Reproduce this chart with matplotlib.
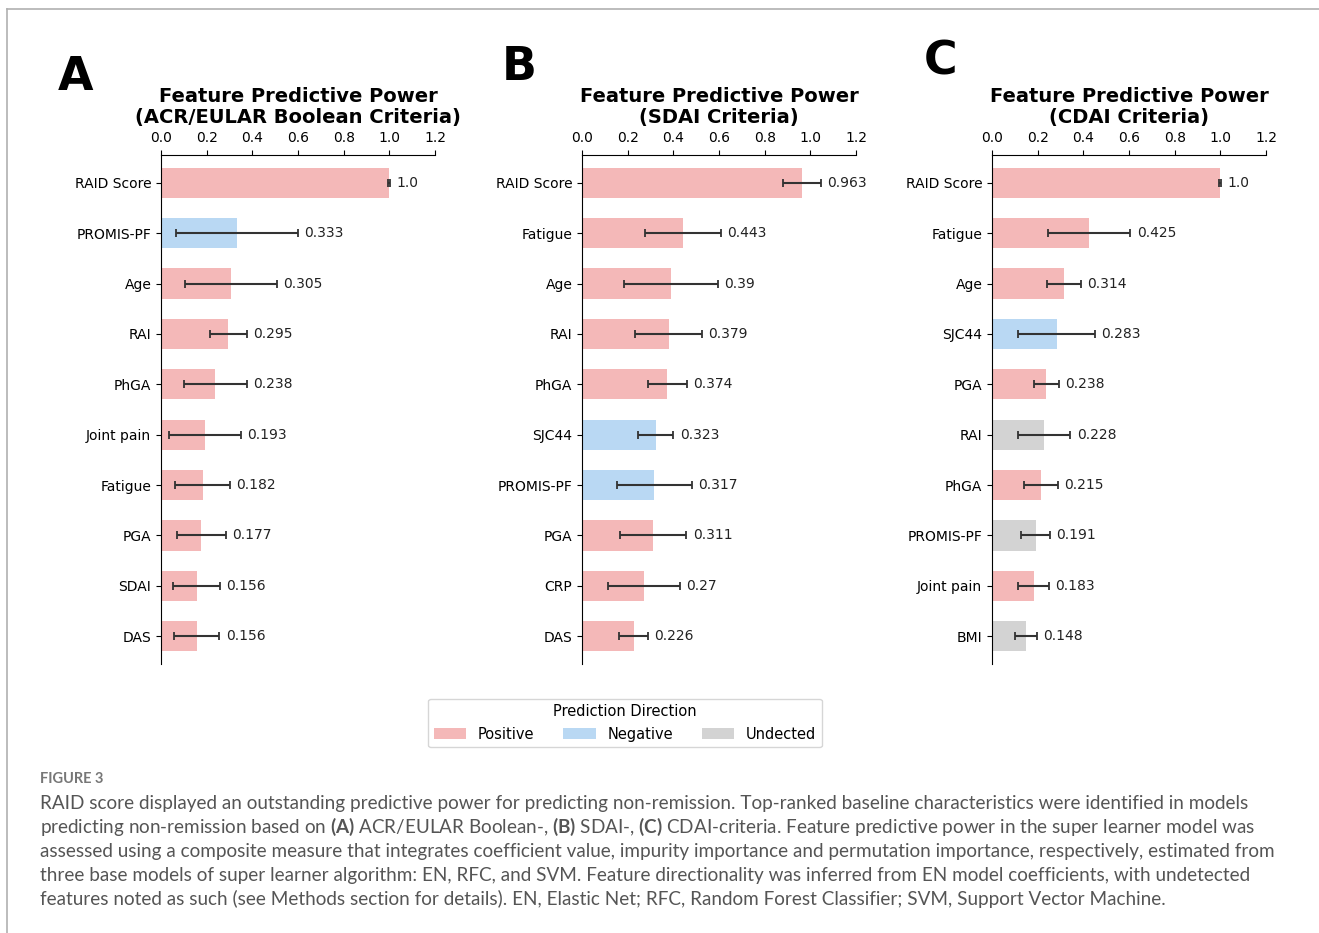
#### Figure 3 再現
# 3つのモデル(ACR/EULAR, SDAI, CDAI)の特徴量予測力を横棒グラフで表示
# 色は予測方向(Positive / Negative / Undected)

import numpy as np
import matplotlib.pyplot as plt
from matplotlib.patches import Patch
from matplotlib.lines import Line2D

plt.rcParams['font.family'] = ['DejaVu Sans']
plt.rcParams['mathtext.fontset'] = 'custom'
plt.rcParams['mathtext.rm'] = 'Lato'
plt.rcParams['mathtext.bf'] = 'Lato:bold'

# データ
features_a = ['RAID Score', 'PROMIS-PF', 'Age', 'RAI', 'PhGA', 'Joint pain', 'Fatigue', 'PGA', 'SDAI', 'DAS']
power_a = [1.0, 0.333, 0.305, 0.295, 0.238, 0.193, 0.182, 0.177, 0.156, 0.156]
err_a = [0.004, 0.266, 0.201, 0.082, 0.138, 0.156, 0.120, 0.107, 0.103, 0.100]
dir_a = ['Positive', 'Negative', 'Positive', 'Positive', 'Positive',
         'Positive', 'Positive', 'Positive', 'Positive', 'Positive']

features_b = ['RAID Score', 'Fatigue', 'Age', 'RAI', 'PhGA', 'SJC44', 'PROMIS-PF', 'PGA', 'CRP', 'DAS']
power_b = [0.963, 0.443, 0.39, 0.379, 0.374, 0.323, 0.317, 0.311, 0.27, 0.226]
err_b = [0.082, 0.165, 0.205, 0.146, 0.085, 0.077, 0.164, 0.146, 0.158, 0.063]
dir_b = ['Positive', 'Positive', 'Positive', 'Positive', 'Positive',
         'Negative', 'Negative', 'Positive', 'Positive', 'Positive']

features_c = ['RAID Score', 'Fatigue', 'Age', 'SJC44', 'PGA', 'RAI', 'PhGA', 'PROMIS-PF', 'Joint pain', 'BMI']
power_c = [1.0, 0.425, 0.314, 0.283, 0.238, 0.228, 0.215, 0.191, 0.183, 0.148]
err_c = [0.004, 0.181, 0.074, 0.168, 0.056, 0.115, 0.074, 0.064, 0.067, 0.047]
dir_c = ['Positive', 'Positive', 'Positive', 'Negative', 'Positive',
         'Undected', 'Positive', 'Undected', 'Positive', 'Undected']

titles = ['Feature Predictive Power\n(ACR/EULAR Boolean Criteria)',
          'Feature Predictive Power\n(SDAI Criteria)',
          'Feature Predictive Power\n(CDAI Criteria)']
letters = ['A', 'B', 'C']
xticks = [0.0, 0.2, 0.4, 0.6, 0.8, 1.0, 1.2]

colors = {'Positive': '#F4B8B8', 'Negative': '#B9D8F3', 'Undected': '#D3D3D3'}

W, H = 1319, 933
fig = plt.figure(figsize=(W / 100, H / 100), dpi=100)

# パネル配置 (ピクセル)
ax_left = [161, 582, 992]
ax_top, ax_bottom, ax_w = 155, 664, 274
letter_pos = [(76, 77), (519, 67), (941, 62)]

panels = [(features_a, power_a, err_a, dir_a),
          (features_b, power_b, err_b, dir_b),
          (features_c, power_c, err_c, dir_c)]

for i, (feat, pw, er, dr) in enumerate(panels):
    ax = fig.add_axes([ax_left[i] / W, 1 - ax_bottom / H, ax_w / W, (ax_bottom - ax_top) / H])
    y = np.arange(len(feat))
    ax.barh(y, pw, height=0.6, color=[colors[d] for d in dr])
    ax.errorbar(pw, y, xerr=er, fmt='none', ecolor='#333333', elinewidth=1.5, capsize=3, capthick=1.3)
    for yy, v, e in zip(y, pw, er):
        ax.text(v + e + 0.028, yy, str(v), va='center', ha='left', fontsize=10, color='#222222')
    ax.set_yticks(y)
    ax.set_yticklabels(feat, fontsize=10)
    ax.set_ylim(len(feat) - 0.45, -0.55)
    ax.set_xlim(0, 1.2)
    ax.set_xticks(xticks)
    ax.set_xticklabels([f'{t:.1f}' for t in xticks], fontsize=10)
    ax.xaxis.tick_top()
    ax.spines['right'].set_visible(False)
    ax.spines['bottom'].set_visible(False)
    cx = (ax_left[i] + ax_w / 2) / W
    fig.text(cx, 1 - 107 / H, titles[i], ha='center', va='center', fontsize=14,
             fontweight='bold', linespacing=1.1)
    lx, ly = letter_pos[i]
    fig.text(lx / W, 1 - ly / H, letters[i], ha='center', va='center', fontsize=33, fontweight='bold')

# 凡例
handles = [Patch(facecolor=colors[k], label=k) for k in ['Positive', 'Negative', 'Undected']]
fig.legend(handles=handles, title='Prediction Direction', loc='center', ncol=3,
           bbox_to_anchor=(625 / W, 1 - 723 / H), fontsize=10.5, title_fontsize=10.5,
           handlelength=2.2, handleheight=0.8, borderpad=0.4, labelspacing=0.5,
           columnspacing=2.0)

# キャプション
fig.text(40 / W, 1 - 779 / H, 'FIGURE 3', fontsize=10.5, color='#777777', family='Lato',
         fontweight='bold', ha='left', va='center')
caption = [
    'RAID score displayed an outstanding predictive power for predicting non-remission. Top-ranked baseline characteristics were identified in models',
    r'predicting non-remission based on $\mathbf{(A)}$ ACR/EULAR Boolean-, $\mathbf{(B)}$ SDAI-, $\mathbf{(C)}$ CDAI-criteria. Feature predictive power in the super learner model was',
    'assessed using a composite measure that integrates coefficient value, impurity importance and permutation importance, respectively, estimated from',
    'three base models of super learner algorithm: EN, RFC, and SVM. Feature directionality was inferred from EN model coefficients, with undetected',
    'features noted as such (see Methods section for details). EN, Elastic Net; RFC, Random Forest Classifier; SVM, Support Vector Machine.',
]
for k, line in enumerate(caption):
    fig.text(40 / W, 1 - (803 + 24 * k) / H, line, fontsize=13.6, color='#555555', family='Lato',
             ha='left', va='center')

# ページ枠
fig.add_artist(Line2D([7 / W, 1], [1 - 9 / H, 1 - 9 / H], color='#B0B0B0', lw=1.2))
fig.add_artist(Line2D([7 / W, 7 / W], [0, 1 - 9 / H], color='#B0B0B0', lw=1.2))

fig.savefig('out.png', dpi=100)
